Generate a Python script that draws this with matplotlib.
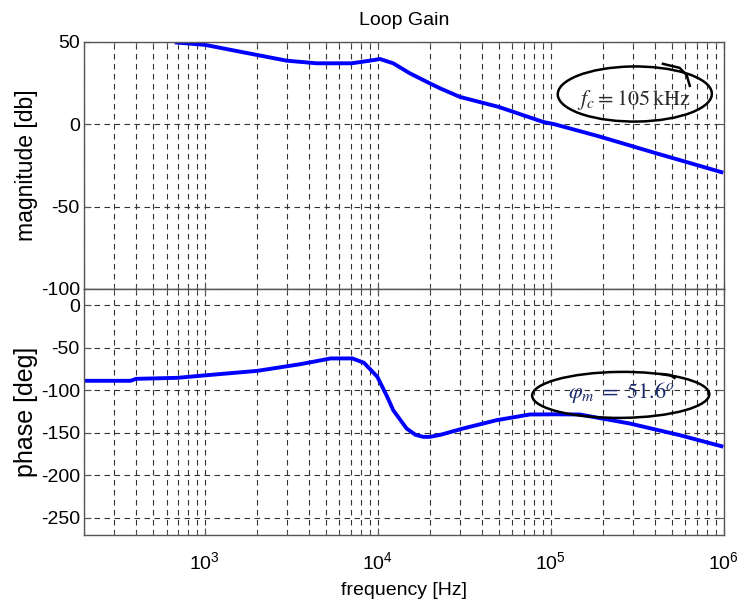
import numpy as np
import matplotlib
matplotlib.use("Agg")
import matplotlib.pyplot as plt
from matplotlib.patches import Ellipse

plt.rcParams['font.family'] = ['Liberation Sans', 'DejaVu Sans']
plt.rcParams['mathtext.fontset'] = 'stix'
plt.rcParams['axes.unicode_minus'] = False

# loop gain magnitude (dB) vs frequency (Hz)
mag_f = [687, 1000, 1990, 2970, 4430, 7050, 9000, 10280, 12270, 15320,
         20000, 22900, 29800, 50000, 90300, 105000, 192000, 400000, 970000]
mag_db = [49.6, 48.2, 42.1, 38.6, 37.0, 37.0, 38.6, 39.6, 37.0, 30.9,
          24.8, 21.8, 16.6, 10.5, 1.4, 0.0, -7.5, -17.4, -29.1]

# loop gain phase (deg) vs frequency (Hz)
ph_f = [200, 372, 400, 692, 1030, 2010, 3580, 5340, 7110, 8310, 9930,
        11330, 12270, 14650, 16500, 18300, 20000, 23000, 31200, 48600,
        75700, 105000, 147000, 286000, 557000, 970000]
ph_deg = [-89, -89, -86.7, -85.5, -82.4, -77.3, -69.4, -62.7, -62.7, -67.8,
          -84.3, -107.8, -123.5, -145, -152.5, -154.9, -154.9, -152.5, -145,
          -135.3, -128.6, -128.4, -128.6, -139.2, -152.9, -165.9]

mag_ticks = [-100, -50, 0, 50]
ph_ticks = [-250, -200, -150, -100, -50, 0]

fig = plt.figure(figsize=(7.37, 6.07), dpi=100)
ax1 = fig.add_axes([0.114, 0.524, 0.868, 0.407])
ax2 = fig.add_axes([0.114, 0.119, 0.868, 0.405])

for ax in (ax1, ax2):
    ax.set_xscale('log')
    ax.set_xlim(200, 1e6)
    ax.grid(True, which='both', axis='x', color='#333333', linestyle=(0, (5, 4)), linewidth=0.8)
    ax.grid(True, which='major', axis='y', color='#333333', linestyle=(0, (5, 4)), linewidth=0.8)
    ax.tick_params(which='both', direction='in', top=True, right=True, labelsize=14,
                   color='#555555', pad=3)
    ax.tick_params(which='major', length=5)
    ax.tick_params(which='minor', length=3)
    for s in ax.spines.values():
        s.set_color('#555555')
        s.set_linewidth(1.0)

ax1.plot(mag_f, mag_db, color='#0000ff', linewidth=2.8)
ax1.set_ylim(-100, 50)
ax1.set_yticks(mag_ticks)
ax1.tick_params(axis='x', which='both', labelbottom=False)
ax1.set_ylabel('magnitude [db]', fontsize=16.5, labelpad=2)
ax1.set_title('Loop Gain', fontsize=14, pad=12)

ax2.plot(ph_f, ph_deg, color='#0000ff', linewidth=2.8)
ax2.set_ylim(-270, 19)
ax2.set_yticks(ph_ticks)
ax2.tick_params(axis='x', which='major', pad=12)
ax2.set_ylabel('phase [deg]', fontsize=18, labelpad=2)
ax2.set_xlabel('frequency [Hz]', fontsize=14, labelpad=6)

# hand-drawn circles around the crossover frequency and phase margin
ax1.add_patch(Ellipse((0.861, 0.789), 0.241, 0.223, angle=3, transform=ax1.transAxes,
                      fill=False, edgecolor='black', linewidth=1.8, clip_on=False, zorder=5))
ax1.plot([0.905, 0.931, 0.942, 0.947], [0.911, 0.895, 0.866, 0.822],
         transform=ax1.transAxes, color='black', linewidth=1.8, clip_on=False, zorder=5)
ax1.text(0.860, 0.745, r'$f_c = 105\,\mathrm{kHz}$', transform=ax1.transAxes,
         ha='center', va='baseline', fontsize=16, color='#2b2b2b', zorder=6)

ax2.add_patch(Ellipse((0.839, 0.569), 0.277, 0.187, angle=2, transform=ax2.transAxes,
                      fill=False, edgecolor='black', linewidth=1.8, clip_on=False, zorder=5))
ax2.plot([0.903, 0.916, 0.923], [0.654, 0.650, 0.638],
         transform=ax2.transAxes, color='black', linewidth=1.8, clip_on=False, zorder=5)
ax2.text(0.840, 0.557, r'$\varphi_m\ =\ 51.6^o$', transform=ax2.transAxes,
         ha='center', va='baseline', fontsize=16, color='#1a2a6c', zorder=6)

fig.savefig('out.png', dpi=100)
